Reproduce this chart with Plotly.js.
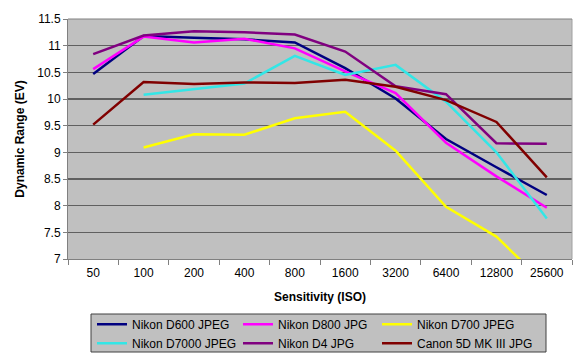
<!DOCTYPE html>
<html>
<head>
<meta charset="utf-8">
<script src="https://cdn.plot.ly/plotly-3.0.1.min.js"></script>
<style>html,body{margin:0;padding:0;background:#fff;}#chart{width:580px;height:356px;}</style>
</head>
<body>
<div id="chart"></div>
<script>
var isoLabels = ['50','100','200','400','800','1600','3200','6400','12800','25600'];
var seriesNames = ['Nikon D600 JPEG','Nikon D800 JPG','Nikon D700 JPEG','Nikon D7000 JPEG','Nikon D4 JPG','Canon 5D MK III JPG'];
var d600  = [10.47, 11.18, 11.15, 11.12, 11.06, 10.58, 10.01, 9.25, 8.72, 8.20];
var d800  = [10.56, 11.17, 11.06, 11.13, 10.95, 10.52, 10.11, 9.18, 8.55, 7.96];
var d700  = [null, 9.09, 9.34, 9.33, 9.64, 9.76, 9.03, 7.98, 7.42, 6.50];
var d7000 = [null, 10.08, 10.19, 10.29, 10.81, 10.45, 10.64, 9.95, 9.00, 7.76];
var d4    = [10.84, 11.19, 11.27, 11.25, 11.21, 10.89, 10.24, 10.09, 9.17, 9.16];
var canon = [9.52, 10.32, 10.28, 10.31, 10.30, 10.36, 10.23, 9.98, 9.57, 8.53];

var values = [d600, d800, d700, d7000, d4, canon];
var colors = ['#000080', '#ff00ff', '#ffff00', '#33e6e6', '#800080', '#800000'];
var legendIds = ['legend', 'legend2', 'legend3'];

var traces = values.map(function (v, i) {
  return {
    type: 'scatter', mode: 'lines', x: isoLabels, y: v, name: seriesNames[i],
    line: {color: colors[i], width: 2.5}, connectgaps: false, hoverinfo: 'skip',
    legend: legendIds[i % 3]
  };
});

var font = {family: '"Liberation Sans", Arial, sans-serif', size: 12, color: '#000'};

function legendAt(xpx) {
  return {
    orientation: 'v', xref: 'paper', yref: 'container',
    x: (xpx - 68) / 504, xanchor: 'left', y: 0.13, yanchor: 'top',
    bgcolor: 'rgba(0,0,0,0)', borderwidth: 0, font: font, tracegroupgap: 0
  };
}

var layout = {
  width: 580, height: 356,
  margin: {l: 68, r: 8, t: 19, b: 97},
  paper_bgcolor: '#ffffff', plot_bgcolor: '#c0c0c0',
  font: font,
  showlegend: true,
  xaxis: {
    type: 'category', categoryorder: 'array', categoryarray: isoLabels,
    range: [-0.5, isoLabels.length - 0.5], autorange: false,
    tickson: 'boundaries', ticks: 'outside', ticklen: 5, tickcolor: '#808080',
    ticklabelstandoff: 3,
    showline: true, linecolor: '#808080', linewidth: 1, mirror: false,
    showgrid: false, zeroline: false, tickfont: font,
    title: {text: 'Sensitivity (ISO)', font: {family: font.family, size: 12, color: '#000', weight: 'bold'}, standoff: 13}
  },
  yaxis: {
    range: [7, 11.5], autorange: false, dtick: 0.5, tick0: 7,
    ticks: 'outside', ticklen: 4, tickcolor: '#808080',
    showline: true, linecolor: '#808080', linewidth: 1,
    showgrid: true, gridcolor: '#606060', gridwidth: 1.5, zeroline: false,
    tickfont: font,
    title: {text: 'Dynamic Range (EV)', font: {family: font.family, size: 12, color: '#000', weight: 'bold'}, standoff: 10}
  },
  legend: legendAt(92),
  legend2: legendAt(238),
  legend3: legendAt(377),
  shapes: [
    {type: 'line', xref: 'paper', yref: 'paper', x0: 1, x1: 1, y0: 0, y1: 1, line: {color: '#a0a0a0', width: 1}},
    {type: 'line', xref: 'paper', yref: 'paper', x0: 0, x1: 1, y0: 1, y1: 1, line: {color: '#808080', width: 1}},
    {type: 'rect', xref: 'paper', yref: 'paper', x0: (91 - 68) / 504, x1: (546 - 68) / 504,
     y0: -(352 - 259) / 240, y1: -(314 - 259) / 240,
     fillcolor: '#c0c0c0', line: {color: '#404040', width: 1}, layer: 'above'}
  ]
};

Plotly.newPlot('chart', traces, layout, {staticPlot: true, displayModeBar: false});
</script>
</body>
</html>
